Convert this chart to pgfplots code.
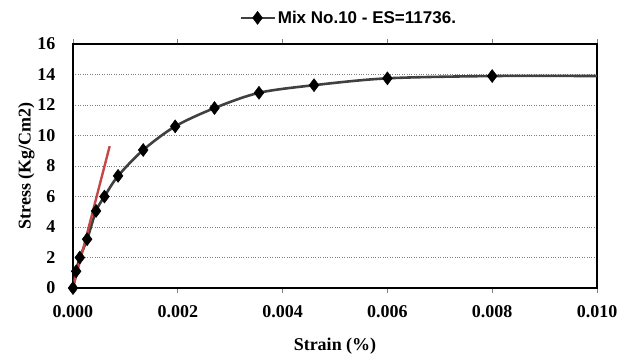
\documentclass[border=0pt]{standalone}
\usepackage{pgfplots}
\pgfplotsset{compat=1.18}
\usepackage{fontspec}
\setmainfont{Liberation Serif}
\newfontfamily\legfont{Liberation Sans}
\definecolor{curvegray}{RGB}{64,64,64}
\definecolor{redline}{RGB}{196,72,72}
\begin{document}
\begin{tikzpicture}
\useasboundingbox (-73pt,-69pt) rectangle (560pt,288pt);
\begin{axis}[
  at={(0pt,0pt)}, anchor=south west,
  scale only axis,
  width=524pt, height=244pt,
  xmin=0, xmax=0.010, ymin=0, ymax=16,
  xtick={0,0.002,0.004,0.006,0.008,0.010},
  ytick={0,2,4,6,8,10,12,14,16},
  x tick label style={/pgf/number format/fixed, /pgf/number format/fixed zerofill, /pgf/number format/precision=3, yshift=-9pt},
  /pgf/number format/assume math mode=true,
  scaled x ticks=false,
  ticklabel style={font=\fontsize{18}{18}\selectfont\bfseries},
  y tick label style={xshift=-9pt},
  xtick style={draw=gray, line width=0.8pt},
  tick align=outside,
  major tick length=5pt,
  ytick style={draw=none},
  ymajorgrids,
  grid style={dotted, gray, line width=0.9pt},
  axis line style={black, line width=1.2pt},
  xlabel={\bfseries Strain (\%)},
  ylabel={\bfseries Stress (Kg/Cm2)},
  label style={font=\fontsize{18}{18}\selectfont\bfseries},
  xlabel style={yshift=-13pt},
  ylabel style={yshift=-4pt},
  legend style={at={(0.526,1.107)}, anchor=center, draw=none, fill=none,
    font=\legfont\fontsize{17}{17}\selectfont\bfseries},
  legend image code/.code={
    \draw[#1, mark=none] (0pt,0pt) -- (34pt,0pt);
    \draw[#1, only marks] plot coordinates {(17pt,0pt)};
  },
]
\addplot[color=curvegray, line width=2.6pt, smooth, tension=0.5,
  mark=diamond*, mark size=6.5pt, mark options={fill=black, draw=black, line width=0.5pt, solid},
  mark indices={1,2,3,4,5,6,7,8,9,10,11,12,13,14}]
  coordinates {
  (0,0) (0.00006,1.1) (0.00013,2.0) (0.00027,3.2) (0.00044,5.05) (0.0006,6.0)
  (0.00086,7.35) (0.00134,9.05) (0.00195,10.6) (0.0027,11.8) (0.00355,12.8)
  (0.0046,13.3) (0.006,13.75) (0.008,13.9) (0.010,13.9)
  };
\addlegendentry{Mix No.10 - ES=11736.}
\addplot[color=redline, line width=2.4pt, forget plot] coordinates {(0,0) (0.0007,9.3)};
\end{axis}
\end{tikzpicture}
\end{document}
